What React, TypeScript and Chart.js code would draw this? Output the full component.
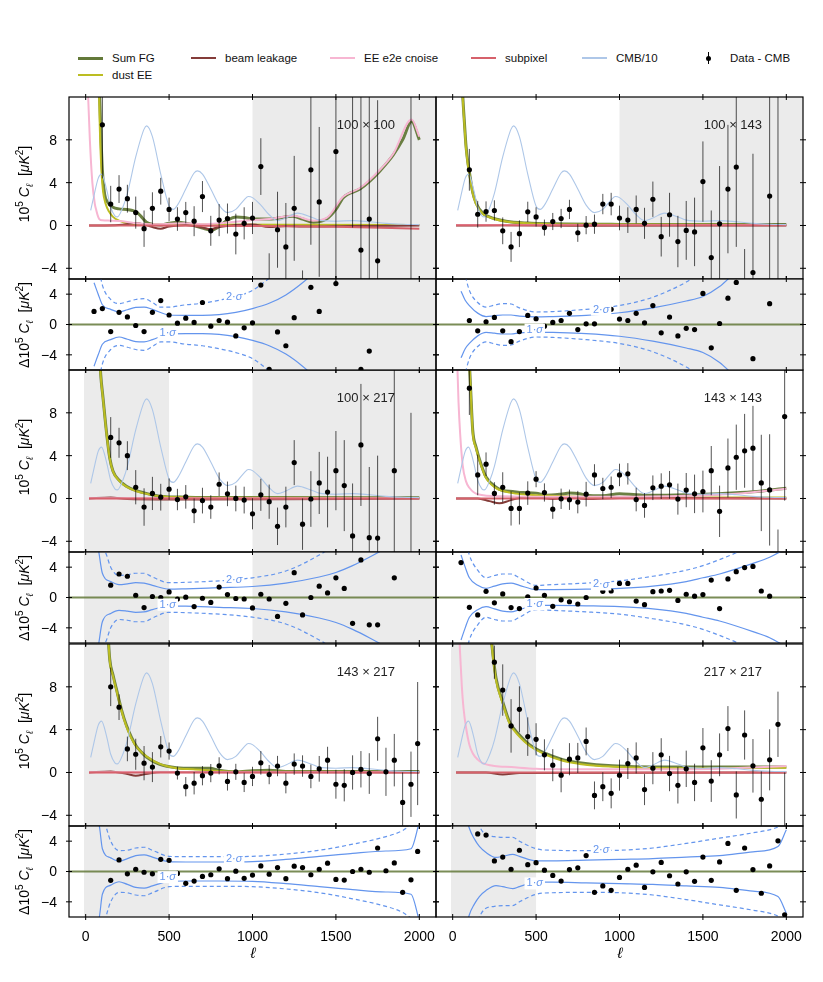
import { useEffect, useRef } from "react"
import { Chart, registerables } from "chart.js"

Chart.register(...registerables)

type Pair = [number, number]

const FONT = '"Liberation Sans", "DejaVu Sans", sans-serif'

// CMB EE spectrum divided by 10 (same in every panel)
const cmbL = [30, 50, 75, 95, 125, 150, 175, 190, 225, 250, 300, 350, 365, 400, 450, 500, 525, 550, 600, 650, 670, 700, 750, 800, 850, 900, 950, 975, 1000, 1050, 1100, 1150, 1200, 1270, 1350, 1400, 1500, 1600, 1700, 1800, 1900, 2000]
const cmbV = [1.4, 2.8, 4.4, 4.8, 3.4, 1.7, 0.9, 0.8, 1.8, 3.0, 6.4, 9.0, 9.3, 8.3, 4.8, 1.8, 1.5, 1.9, 3.4, 4.9, 5.1, 4.8, 3.4, 1.9, 1.2, 1.5, 2.4, 2.7, 2.6, 1.9, 1.0, 0.45, 0.7, 1.15, 0.8, 0.5, 0.4, 0.45, 0.35, 0.2, 0.12, 0.08]

const xTicks = [0, 500, 1000, 1500, 2000]
const mainTicks = [-4, 0, 4, 8]
const resTicks = [-4, 0, 4]

// ---- 100 x 100 ----
const dataL100x100 = [100, 150, 200, 250, 300, 350, 400, 450, 500, 550, 600, 650, 700, 750, 800, 850, 900, 950, 1000, 1050, 1100, 1150, 1200, 1250, 1300, 1350, 1400, 1500, 1600, 1650, 1700, 1750, 1950]
const dataV100x100 = [9.4, 2.0, 3.4, 2.5, 1.2, -0.3, 1.6, 3.2, 1.5, 0.6, 1.2, 0.4, 2.7, -0.5, 0.5, 0.65, -0.8, 0.2, 0.7, 5.5, -8, -0.4, -2.0, 1.6, -10, 5.2, 2.2, 6.9, 16, -2.3, 0.6, -3.3, 20]
const dataE100x100 = [5, 1.7, 1.3, 1.3, 1.5, 1.7, 1.5, 1.25, 1.1, 1.1, 1.0, 1.4, 1.45, 1.4, 1.5, 1.4, 1.9, 1.5, 1.5, 2.65, 5.4, 3.55, 4.1, 4.9, 5.8, 7.0, 7.0, 15, 16.2, 15, 15, 15, 35]
const resL100x100 = [50, 100, 150, 200, 250, 300, 350, 400, 450, 500, 550, 600, 650, 700, 750, 800, 850, 900, 950, 1000, 1050, 1100, 1150, 1200, 1250, 1350, 1400, 1500, 1650, 1700]
const resV100x100 = [1.73, 2.1, -0.93, 1.6, 1.0, -0.13, -0.93, 1.6, 3.15, 1.25, 0.18, 0.84, 0.27, 2.9, -0.22, 0.53, 0.31, -1.5, -0.44, 0.22, 5.2, -5.9, -0.98, -2.8, 0.9, 4.9, 1.73, 5.4, -5.9, -3.5]
const sumFG100x100: Pair[] = [[80, 14], [90, 9], [100, 5.2], [114, 2.9], [130, 2.2], [164, 1.7], [200, 1.55], [244, 1.5], [280, 1.4], [310, 1.2], [340, 0.7], [364, 0.3], [400, 0.1], [450, 0.05], [500, 0.2], [550, 0.3], [600, 0.2], [650, 0.0], [700, -0.25], [754, -0.45], [800, -0.1], [850, 0.5], [904, 0.8], [950, 0.75], [1004, 0.6], [1100, 0.6], [1244, 0.85], [1300, 0.6], [1364, 0.3], [1444, 0.6], [1500, 1.5], [1544, 2.6], [1644, 3.4], [1700, 4.1], [1764, 5.1], [1844, 6.6], [1900, 8.0], [1954, 9.7], [2000, 8.0]]
const dust100x100: Pair[] = [[78, 14], [85, 9], [95, 5], [104, 3.2], [120, 2.0], [140, 1.3], [164, 0.8], [200, 0.45], [250, 0.2], [300, 0.12], [400, 0.1], [700, 0.08], [1200, 0.06], [2000, 0.05]]
const beam100x100: Pair[] = [[20, 0], [200, 0.05], [300, 0.2], [350, 0.1], [400, -0.15], [450, -0.3], [500, -0.1], [600, 0.05], [700, -0.2], [750, -0.35], [800, -0.15], [900, 0.05], [1000, 0.1], [1100, -0.15], [1200, -0.05], [1300, -0.1], [1600, -0.05], [2000, 0]]
const cnoise100x100: Pair[] = [[10, 14], [25, 8], [40, 4], [55, 2.0], [64, 1.4], [75, 0.8], [84, 0.55], [100, 0.48], [150, 0.45], [200, 0.42], [250, 0.33], [300, 0.2], [400, 0.12], [500, 0.15], [600, 0.2], [700, 0.12], [800, 0.2], [900, 0.35], [1000, 0.5], [1100, 0.6], [1244, 0.9], [1364, 0.45], [1444, 0.7], [1544, 2.7], [1644, 3.5], [1764, 5.2], [1844, 6.7], [1954, 9.9], [2000, 8.3]]
const subpix100x100: Pair[] = [[20, 0], [1000, -0.05], [1500, -0.12], [2000, -0.3]]
const sig1_100x100: Pair[] = [[50, 5.5], [75, 4.0], [100, 2.6], [150, 2.0], [200, 1.65], [250, 1.95], [300, 2.25], [350, 2.3], [400, 2.0], [500, 1.25], [600, 1.2], [700, 1.2], [800, 1.3], [900, 1.6], [1000, 2.1], [1100, 2.8], [1200, 3.9], [1300, 5.5], [1400, 7.5], [1600, 12], [2000, 20]]
const sig2_100x100: Pair[] = [[75, 8], [100, 5.2], [150, 3.3], [200, 2.75], [250, 3.0], [300, 3.3], [350, 3.4], [400, 2.9], [450, 2.3], [500, 2.3], [600, 2.6], [700, 2.8], [800, 3.2], [900, 3.7], [1000, 4.5], [1100, 6.1], [1200, 8], [1400, 12], [2000, 25]]

// ---- 100 x 143 ----
const dataL100x143 = [100, 150, 200, 250, 300, 350, 400, 450, 500, 550, 600, 650, 700, 750, 800, 850, 900, 950, 1000, 1050, 1100, 1150, 1200, 1250, 1300, 1350, 1400, 1450, 1500, 1550, 1600, 1650, 1700, 1750, 1800, 1900, 1950]
const dataV100x143 = [5.2, 1.05, 1.3, 1.4, -0.5, -2.0, -0.77, 1.27, 0.8, -0.2, 0.37, 0.65, 1.5, -0.68, 0.03, 0.12, 2.0, 2.0, 0.7, 0.5, 1.5, 0.2, 2.45, -1.05, 1.0, -1.5, -0.46, -0.6, 4.1, -3.0, 0.15, 3.4, 5.45, -10, -4.4, 2.75, 18]
const dataE100x143 = [1.95, 1.25, 0.95, 0.95, 1.25, 1.4, 1.25, 0.95, 0.9, 0.75, 0.8, 0.9, 0.9, 0.85, 0.85, 0.9, 0.95, 1.05, 1.15, 1.2, 1.3, 1.45, 1.65, 1.85, 2.05, 2.4, 2.75, 3.2, 3.75, 4.4, 5.4, 6.0, 7.45, 7.8, 11.1, 15, 32]
const resL100x143 = [100, 150, 200, 250, 300, 350, 400, 450, 500, 550, 600, 650, 700, 750, 800, 850, 900, 950, 1000, 1050, 1100, 1150, 1200, 1250, 1300, 1350, 1400, 1450, 1500, 1550, 1600, 1650, 1700, 1800, 1900]
const resV100x143 = [0.53, -0.84, 0.36, 0.93, -0.84, -2.27, -0.93, 1.2, 0.76, -0.22, 0.27, 0.53, 1.47, -0.67, 0.09, 0.09, 1.95, 2.0, 0.71, 0.53, 1.47, 0.22, 2.5, -1.1, 0.98, -1.5, -0.5, -0.67, 4.1, -3.07, 0.13, 3.47, 5.55, -4.5, 2.75]
const sumFG100x143: Pair[] = [[55, 14], [60, 12.2], [70, 9.7], [80, 7.4], [90, 6.0], [100, 5.0], [120, 3.1], [140, 2.1], [180, 1.15], [220, 0.8], [320, 0.4], [450, 0.22], [600, 0.15], [1000, 0.1], [2000, 0.08]]
const dust100x143: Pair[] = [[55, 14], [60, 12], [70, 9.5], [80, 7.2], [90, 5.8], [100, 4.8], [120, 3.0], [140, 2.0], [180, 1.1], [220, 0.77], [320, 0.37], [450, 0.2], [600, 0.12], [1000, 0.08], [2000, 0.05]]
const beam100x143: Pair[] = [[20, 0], [300, 0.02], [700, -0.02], [2000, 0]]
const cnoise100x143: Pair[] = [[20, 0.04], [2000, 0.04]]
const subpix100x143: Pair[] = [[20, 0.02], [2000, 0.02]]
const sig1_100x143: Pair[] = [[50, 4.4], [75, 3.2], [100, 2.5], [150, 1.5], [200, 1.05], [250, 1.15], [300, 1.25], [350, 1.25], [400, 1.1], [500, 1.0], [600, 1.05], [800, 1.2], [1000, 1.55], [1200, 2.2], [1400, 3.1], [1500, 3.7], [1600, 5.0], [1700, 7], [2000, 12]]
const sig2_100x143: Pair[] = [[50, 9], [75, 6.5], [100, 4.5], [150, 2.9], [200, 2.3], [250, 2.55], [300, 2.75], [350, 2.7], [400, 2.2], [500, 1.65], [600, 1.7], [800, 2.0], [1000, 2.5], [1200, 3.6], [1400, 5.6], [1600, 8.5], [2000, 15]]

// ---- 100 x 217 ----
const dataL100x217 = [150, 200, 250, 300, 350, 400, 450, 500, 550, 600, 650, 700, 750, 800, 850, 900, 950, 1000, 1050, 1100, 1150, 1200, 1250, 1300, 1350, 1400, 1450, 1500, 1550, 1600, 1650, 1700, 1750, 1850, 1950]
const dataV100x217 = [5.7, 5.2, 4.0, 1.05, -0.8, 0.47, 0.12, 0.87, -0.1, 0.15, -1.15, -0.2, -0.8, 1.33, 0.43, 0, -0.15, -1.43, 0.34, -0.3, -2.6, -0.8, 3.35, -2.4, -0.05, 1.45, 0.6, 2.6, 1.2, -3.5, 5.0, -3.66, -3.7, 2.6, -9]
const dataE100x217 = [1.9, 1.4, 1.35, 1.6, 1.75, 1.55, 1.25, 1.0, 1.0, 1.1, 1.15, 1.2, 1.1, 1.1, 1.15, 1.2, 1.25, 1.45, 1.5, 1.6, 1.75, 1.9, 2.1, 2.4, 2.6, 2.9, 3.3, 3.7, 4.25, 4.9, 5.7, 6.6, 7.7, 12, 17]
const resL100x217 = [150, 200, 250, 300, 350, 400, 450, 500, 550, 600, 650, 700, 750, 800, 850, 900, 950, 1000, 1050, 1100, 1150, 1200, 1250, 1300, 1350, 1400, 1450, 1500, 1550, 1600, 1650, 1700, 1750, 1850]
const resV100x217 = [1.63, 3.1, 2.8, 0.3, -1.33, 0.13, 0, 0.73, -0.2, 0.04, -1.2, -0.1, -0.65, 1.38, 0.39, -0.13, -0.2, -1.38, 0.43, -0.2, -2.5, -0.77, 3.27, -2.3, 0, 1.5, 0.6, 2.6, 1.2, -3.4, 4.95, -3.6, -3.6, 2.6]
const sumFG100x217: Pair[] = [[82, 14], [90, 11.6], [104, 9.4], [124, 6.3], [144, 3.8], [164, 2.55], [204, 1.65], [244, 1.15], [300, 0.75], [344, 0.55], [444, 0.22], [600, 0.12], [1000, 0.08], [2000, 0.06]]
const dust100x217: Pair[] = [[82, 14], [90, 11.5], [104, 9.3], [124, 6.2], [144, 3.75], [164, 2.5], [204, 1.6], [244, 1.1], [300, 0.7], [344, 0.5], [444, 0.2], [600, 0.1], [1000, 0.06], [2000, 0.05]]
const beam100x217: Pair[] = [[20, 0], [150, 0.1], [250, -0.05], [700, -0.1], [2000, 0]]
const cnoise100x217: Pair[] = [[20, 0.03], [2000, 0.03]]
const subpix100x217: Pair[] = [[20, 0], [2000, 0]]
const sig1_100x217: Pair[] = [[50, 9], [75, 6.5], [100, 3.2], [150, 2.1], [200, 1.7], [250, 1.8], [300, 1.95], [350, 1.9], [400, 1.6], [500, 1.1], [600, 1.15], [800, 1.3], [1000, 1.45], [1200, 1.9], [1400, 2.7], [1500, 3.3], [1600, 4.2], [1700, 5.3], [2000, 9]]
const sig2_100x217: Pair[] = [[50, 14], [100, 7], [125, 5.6], [150, 4.0], [200, 2.9], [250, 3.0], [300, 3.2], [350, 3.2], [400, 2.7], [500, 1.95], [600, 2.0], [800, 2.2], [1000, 2.6], [1200, 3.5], [1400, 5.6], [1600, 8.5], [2000, 15]]

// ---- 143 x 143 ----
const dataL143x143 = [100, 150, 200, 250, 300, 350, 400, 450, 500, 550, 600, 650, 700, 750, 800, 850, 900, 950, 1000, 1050, 1100, 1150, 1200, 1250, 1300, 1350, 1400, 1450, 1500, 1550, 1600, 1650, 1700, 1750, 1800, 1850, 1900, 1950, 1990]
const dataV143x143 = [10.3, 2.2, 3.2, 0.47, 1.05, -0.93, -0.93, 0.5, 1.8, 0.56, -1.0, -0.03, -0.12, -0.34, 0.4, 2.2, 0.93, 1.05, 2.2, 2.3, -0.1, -0.65, 1.0, 1.15, 1.27, -0.06, 0.78, 0.43, 0.65, 2.6, -1.2, 2.85, 3.85, 4.45, 4.7, 1.45, 0.8, -9, 7.65]
const dataE143x143 = [2.5, 1.9, 1.1, 1.05, 1.4, 1.6, 1.5, 1.1, 0.75, 0.85, 0.9, 0.95, 0.95, 1.05, 1.15, 1.0, 1.0, 1.0, 1.05, 1.0, 1.1, 1.15, 1.15, 1.2, 1.3, 1.45, 1.6, 1.8, 1.95, 2.3, 2.4, 2.75, 3.05, 3.45, 3.95, 4.5, 5.2, 6.1, 7.85]
const resL143x143 = [50, 100, 150, 200, 250, 300, 350, 400, 450, 500, 550, 600, 650, 700, 750, 800, 850, 900, 950, 1000, 1050, 1100, 1150, 1200, 1250, 1300, 1350, 1400, 1450, 1500, 1550, 1600, 1650, 1700, 1750, 1800, 1850, 1900]
const resV143x143 = [4.6, -1.3, -2.3, 0.82, -0.7, 0.47, -1.33, -1.46, 0.1, 1.25, 0.3, -1.16, -0.3, -0.56, -0.86, 0, 2.0, 0.82, 0.86, 1.85, 1.85, -0.47, -0.95, 0.77, 0.86, 0.95, -0.39, 0.43, 0.17, 0.39, 2.3, -1.46, 2.45, 3.4, 3.95, 4.1, 0.86, 0.17]
const sumFG143x143: Pair[] = [[96, 14], [108, 10.1], [120, 6.4], [140, 4.8], [170, 3.2], [200, 2.0], [260, 1.05], [300, 0.75], [360, 0.65], [420, 0.55], [500, 0.5], [560, 0.3], [650, 0.4], [700, 0.5], [760, 0.45], [800, 0.3], [900, 0.25], [1000, 0.45], [1100, 0.35], [1200, 0.3], [1400, 0.35], [1600, 0.45], [1800, 0.62], [2000, 0.95]]
const dust143x143: Pair[] = [[96, 14], [108, 10], [120, 6.2], [140, 4.7], [170, 3.1], [200, 1.9], [260, 0.96], [360, 0.5], [460, 0.34], [660, 0.2], [1000, 0.1], [2000, 0.08]]
const beam143x143: Pair[] = [[20, 0], [150, 0], [220, -0.25], [280, -0.45], [340, -0.2], [400, 0.05], [500, 0.1], [600, -0.05], [700, 0.1], [800, -0.05], [1000, 0.05], [2000, 0]]
const cnoise143x143: Pair[] = [[25, 14], [35, 9], [45, 6], [60, 3.1], [80, 1.6], [100, 1.0], [150, 0.4], [300, 0.2], [600, 0.15], [1000, 0.15], [1400, 0.25], [1700, 0.45], [2000, 0.9]]
const subpix143x143: Pair[] = [[20, 0], [2000, 0]]
const sig1_143x143: Pair[] = [[50, 5.6], [75, 4.0], [100, 2.6], [150, 1.6], [200, 1.2], [250, 1.5], [300, 1.8], [350, 1.9], [400, 1.6], [500, 1.05], [600, 1.05], [800, 1.1], [1000, 1.2], [1200, 1.5], [1400, 2.1], [1500, 2.6], [1600, 3.1], [1800, 4.5], [1900, 5.3], [2000, 6.5]]
const sig2_143x143: Pair[] = [[75, 8], [100, 5.6], [150, 3.6], [200, 2.6], [250, 2.9], [300, 3.1], [350, 3.1], [400, 2.6], [500, 1.6], [600, 1.7], [800, 1.9], [1000, 2.2], [1200, 2.8], [1400, 3.6], [1500, 4.2], [1600, 5.0], [1700, 5.9], [1800, 7], [2000, 10]]

// ---- 143 x 217 ----
const dataL143x217 = [150, 200, 250, 300, 350, 400, 450, 500, 550, 600, 650, 700, 750, 800, 850, 900, 950, 1000, 1050, 1100, 1150, 1200, 1250, 1300, 1350, 1400, 1450, 1500, 1550, 1600, 1650, 1700, 1750, 1800, 1850, 1900, 1950, 1990]
const dataV143x217 = [8.0, 6.1, 2.2, 1.7, 0.87, 0.5, 2.4, 2.0, -0.06, -1.33, -1.0, -0.3, -0.06, 0.62, -0.84, 0.06, -0.93, -0.37, 0.9, -0.2, 0.6, -1.0, 0.78, 0.6, -0.37, 0.34, 1.15, -1.1, -1.2, 0, 0.3, -0.1, 3.15, 0.06, 1.15, -2.8, -1.1, 2.7]
const dataE143x217 = [1.8, 1.2, 1.15, 1.45, 1.6, 1.4, 1.0, 0.8, 0.6, 0.9, 1.05, 0.9, 0.85, 0.8, 0.85, 0.75, 0.9, 0.9, 1.1, 0.9, 0.95, 0.95, 1.0, 1.0, 1.1, 1.2, 1.25, 1.35, 1.5, 1.6, 1.7, 1.9, 2.05, 2.25, 2.45, 2.8, 3.05, 5.75]
const resL143x217 = dataL143x217
const resV143x217 = [-1.17, 1.52, -0.3, 0.3, -0.1, -0.3, 1.6, 1.47, -0.26, -1.56, -1.26, -0.65, -0.43, 0.35, -0.95, 0.04, -0.9, -0.47, 0.74, -0.35, 0.52, -0.95, 0.7, 0.52, -0.43, 0.3, 1.1, -1.04, -1.13, 0, 0.3, -0.1, 3.1, 0.1, 1.13, -2.74, -1.1, 2.65]
const sumFG143x217: Pair[] = [[130, 14], [144, 10.6], [164, 9.1], [184, 7.8], [214, 5.9], [244, 4.4], [274, 3.3], [304, 2.45], [334, 1.9], [364, 1.45], [444, 0.75], [544, 0.45], [644, 0.4], [744, 0.4], [800, 0.2], [900, 0.05], [1000, 0.15], [1100, 0.2], [1200, 0.1], [1400, 0.1], [2000, 0.1]]
const dust143x217: Pair[] = [[130, 14], [144, 10.5], [164, 9.0], [184, 7.7], [214, 5.8], [244, 4.3], [274, 3.2], [304, 2.4], [334, 1.9], [364, 1.5], [444, 0.8], [544, 0.4], [644, 0.3], [844, 0.1], [1200, 0.06], [2000, 0.05]]
const beam143x217: Pair[] = [[20, 0], [150, 0.1], [250, -0.15], [300, -0.3], [360, -0.15], [450, 0.05], [2000, 0]]
const cnoise143x217: Pair[] = [[20, 0.03], [2000, 0.03]]
const subpix143x217: Pair[] = [[20, 0], [2000, 0]]
const sig1_143x217: Pair[] = [[50, 10], [84, 5.7], [100, 3.0], [150, 1.8], [200, 1.35], [250, 1.7], [300, 2.1], [350, 2.2], [400, 1.9], [500, 1.3], [600, 1.25], [800, 1.25], [1000, 1.3], [1200, 1.6], [1400, 2.0], [1500, 2.2], [1600, 2.4], [1800, 2.7], [1950, 3.0], [2000, 6.5]]
const sig2_143x217: Pair[] = [[75, 12], [100, 8], [125, 5.7], [150, 4.0], [200, 2.75], [250, 2.8], [300, 3.1], [350, 3.2], [400, 2.8], [500, 2.0], [600, 1.95], [800, 1.95], [1000, 2.0], [1200, 2.3], [1400, 2.8], [1600, 3.6], [1800, 4.6], [1900, 5.4], [2000, 7]]

// ---- 217 x 217 ----
const dataL217x217 = [250, 300, 350, 400, 450, 500, 550, 600, 650, 700, 750, 800, 850, 900, 950, 1000, 1050, 1100, 1150, 1200, 1250, 1300, 1350, 1400, 1450, 1500, 1550, 1600, 1650, 1700, 1750, 1800, 1850, 1900, 1950, 1990]
const dataV217x217 = [10.3, 7.7, 4.35, 5.9, 3.35, 3.1, 1.65, 0.68, -0.25, 1.24, 1.36, 2.9, -2.14, -1.33, -1.95, -0.25, 0.84, 1.36, -1.6, 0.4, 1.65, -0.1, -1.2, 0.34, -0.93, 2.3, -0.8, 1.65, 4.1, -2.1, 3.5, 0.62, -2.5, 1.18, 4.5, -6]
const dataE217x217 = [1.55, 2.4, 2.5, 2.15, 1.8, 1.5, 1.45, 1.5, 1.6, 1.5, 1.4, 1.3, 1.3, 1.35, 1.4, 1.45, 1.45, 1.45, 1.45, 1.5, 1.55, 1.65, 1.7, 1.7, 1.75, 1.85, 1.95, 2.0, 2.1, 2.2, 2.3, 2.5, 2.6, 2.85, 3.05, 6]
const resL217x217 = [150, 200, 250, 300, 350, 400, 450, 500, 550, 600, 650, 700, 750, 800, 850, 900, 950, 1000, 1050, 1100, 1150, 1200, 1250, 1300, 1350, 1400, 1450, 1500, 1550, 1600, 1650, 1700, 1750, 1800, 1850, 1900, 1950, 1990]
const resV217x217 = [4.95, 4.8, 1.4, 1.9, 0.3, 2.8, 0.9, 1.17, 0.17, -0.52, -1.26, 0.26, 0.48, 2.1, -2.74, -1.9, -2.48, -0.78, 0.3, 0.83, -2.1, -0.04, 1.2, -0.56, -1.65, -0.04, -1.3, 1.9, -1.17, 1.26, 3.7, -2.48, 3.1, 0.26, -2.87, 0.74, 4.04, -5.7]
const sumFG217x217: Pair[] = [[222, 14], [240, 11.2], [260, 8.8], [300, 6.6], [340, 4.75], [400, 3.5], [460, 2.6], [560, 1.75], [660, 1.2], [760, 0.9], [860, 0.72], [1060, 0.55], [1400, 0.5], [2000, 0.52]]
const dust217x217: Pair[] = [[222, 14], [240, 11], [260, 8.6], [300, 6.45], [340, 4.6], [400, 3.35], [460, 2.5], [560, 1.65], [660, 1.1], [760, 0.8], [860, 0.62], [1060, 0.47], [1400, 0.4], [2000, 0.45]]
const beam217x217: Pair[] = [[20, 0], [200, 0], [300, -0.2], [400, -0.05], [2000, 0]]
const cnoise217x217: Pair[] = [[35, 14], [45, 11], [55, 8], [65, 6], [80, 4.2], [100, 2.6], [120, 1.8], [150, 1.2], [180, 0.87], [250, 0.6], [350, 0.5], [500, 0.35], [800, 0.3], [1200, 0.3], [1600, 0.35], [2000, 0.6]]
const subpix217x217: Pair[] = [[20, 0], [2000, 0]]
const sig1_217x217: Pair[] = [[50, 12], [75, 8], [100, 5.7], [130, 4.3], [160, 3.3], [200, 2.5], [260, 1.85], [300, 2.0], [360, 2.26], [400, 2.0], [500, 1.4], [600, 1.4], [800, 1.5], [1000, 1.6], [1200, 1.7], [1400, 1.9], [1600, 2.1], [1800, 2.6], [1950, 3.3], [2000, 5.5]]
const sig2_217x217: Pair[] = [[100, 10], [150, 6.5], [190, 5.0], [250, 4.6], [300, 4.5], [360, 4.5], [400, 4.0], [500, 3.0], [600, 2.8], [800, 2.75], [1000, 2.8], [1200, 3.1], [1400, 3.7], [1600, 4.4], [1800, 5.1], [1930, 5.7], [2000, 6.5]]

interface Spec {
  title: string
  col: number
  row: number
  shade: Pair[]
  dataL: number[]
  dataV: number[]
  dataE: number[]
  resL: number[]
  resV: number[]
  sumFG: Pair[]
  dust: Pair[]
  beam: Pair[]
  cnoise: Pair[]
  subpix: Pair[]
  sig1: Pair[]
  sig2: Pair[]
  lab2: number
  lab1: number
}

const panels: Spec[] = [
  { title: "100 \u00d7 100", col: 0, row: 0, shade: [[1000, 2100]], dataL: dataL100x100, dataV: dataV100x100, dataE: dataE100x100, resL: resL100x100, resV: resV100x100, sumFG: sumFG100x100, dust: dust100x100, beam: beam100x100, cnoise: cnoise100x100, subpix: subpix100x100, sig1: sig1_100x100, sig2: sig2_100x100, lab2: 3.64, lab1: -1.16 },
  { title: "100 \u00d7 143", col: 1, row: 0, shade: [[1000, 2100]], dataL: dataL100x143, dataV: dataV100x143, dataE: dataE100x143, resL: resL100x143, resV: resV100x143, sumFG: sumFG100x143, dust: dust100x143, beam: beam100x143, cnoise: cnoise100x143, subpix: subpix100x143, sig1: sig1_100x143, sig2: sig2_100x143, lab2: 1.96, lab1: -0.67 },
  { title: "100 \u00d7 217", col: 0, row: 1, shade: [[-10, 500], [1000, 2100]], dataL: dataL100x217, dataV: dataV100x217, dataE: dataE100x217, resL: resL100x217, resV: resV100x217, sumFG: sumFG100x217, dust: dust100x217, beam: beam100x217, cnoise: cnoise100x217, subpix: subpix100x217, sig1: sig1_100x217, sig2: sig2_100x217, lab2: 2.37, lab1: -0.95 },
  { title: "143 \u00d7 143", col: 1, row: 1, shade: [], dataL: dataL143x143, dataV: dataV143x143, dataE: dataE143x143, resL: resL143x143, resV: resV143x143, sumFG: sumFG143x143, dust: dust143x143, beam: beam143x143, cnoise: cnoise143x143, subpix: subpix143x143, sig1: sig1_143x143, sig2: sig2_143x143, lab2: 1.72, lab1: -0.86 },
  { title: "143 \u00d7 217", col: 0, row: 2, shade: [[-10, 500]], dataL: dataL143x217, dataV: dataV143x217, dataE: dataE143x217, resL: resL143x217, resV: resV143x217, sumFG: sumFG143x217, dust: dust143x217, beam: beam143x217, cnoise: cnoise143x217, subpix: subpix143x217, sig1: sig1_143x217, sig2: sig2_143x217, lab2: 1.7, lab1: -0.74 },
  { title: "217 \u00d7 217", col: 1, row: 2, shade: [[-10, 500]], dataL: dataL217x217, dataV: dataV217x217, dataE: dataE217x217, resL: resL217x217, resV: resV217x217, sumFG: sumFG217x217, dust: dust217x217, beam: beam217x217, cnoise: cnoise217x217, subpix: subpix217x217, sig1: sig1_217x217, sig2: sig2_217x217, lab2: 2.83, lab1: -1.57 },
]

// figure geometry
const colX = [69, 436]
const rowY = [97, 370, 644]
const PW = 367
const MAIN_H = 182
const RES_H = 91
const PAD = { l: 60, t: 20, r: 20, b: 40 }

const xy = (p: Pair[]) => p.map(([x, y]) => ({ x, y }))
const neg = (p: Pair[]) => p.map(([x, y]) => ({ x, y: -y }))
const zip = (xs: number[], ys: number[]) => xs.map((x, i) => ({ x, y: ys[i] }))

function curve(data: { x: number; y: number }[], color: string, width: number, order: number, extra: object = {}) {
  return {
    data,
    borderColor: color,
    borderWidth: width,
    showLine: true,
    pointRadius: 0,
    cubicInterpolationMode: "monotone",
    order,
    ...extra,
  }
}

function decor(spec: Spec, kind: "main" | "res") {
  const isMain = kind === "main"
  return {
    id: "decor",
    beforeDatasetsDraw(chart: any) {
      const { ctx, chartArea: a, scales } = chart
      ctx.save()
      ctx.fillStyle = "#ebebeb"
      for (const [l0, l1] of spec.shade) {
        const p0 = Math.max(a.left, scales.x.getPixelForValue(l0))
        const p1 = Math.min(a.right, scales.x.getPixelForValue(l1))
        ctx.fillRect(p0, a.top, p1 - p0, a.bottom - a.top)
      }
      if (!isMain) {
        const y0 = scales.y.getPixelForValue(0)
        ctx.strokeStyle = "rgba(99,121,57,0.85)"
        ctx.lineWidth = 2
        ctx.beginPath()
        ctx.moveTo(a.left, y0)
        ctx.lineTo(a.right, y0)
        ctx.stroke()
      }
      ctx.restore()
    },
    beforeDatasetDraw(chart: any, args: any) {
      if (!isMain || args.index !== 0) return
      const { ctx, chartArea: a, scales } = chart
      ctx.save()
      ctx.beginPath()
      ctx.rect(a.left, a.top, a.right - a.left, a.bottom - a.top)
      ctx.clip()
      ctx.strokeStyle = "rgba(0,0,0,0.68)"
      ctx.lineWidth = 1
      spec.dataL.forEach((l, i) => {
        const px = scales.x.getPixelForValue(l)
        ctx.beginPath()
        ctx.moveTo(px, scales.y.getPixelForValue(spec.dataV[i] + spec.dataE[i]))
        ctx.lineTo(px, scales.y.getPixelForValue(spec.dataV[i] - spec.dataE[i]))
        ctx.stroke()
      })
      ctx.restore()
    },
    afterDraw(chart: any) {
      const { ctx, chartArea: a, scales } = chart
      const yt = isMain ? mainTicks : resTicks
      ctx.save()
      ctx.strokeStyle = "#000"
      ctx.lineWidth = 1.2
      ctx.strokeRect(a.left, a.top, a.right - a.left, a.bottom - a.top)
      ctx.lineWidth = 1
      ctx.beginPath()
      for (const t of xTicks) {
        const px = scales.x.getPixelForValue(t)
        ctx.moveTo(px, a.top - 3)
        ctx.lineTo(px, a.top + 3)
        ctx.moveTo(px, a.bottom - 3)
        ctx.lineTo(px, a.bottom + 3)
      }
      for (const t of yt) {
        const py = scales.y.getPixelForValue(t)
        ctx.moveTo(a.left - 3, py)
        ctx.lineTo(a.left + 3, py)
        ctx.moveTo(a.right - 3, py)
        ctx.lineTo(a.right + 3, py)
      }
      ctx.stroke()

      ctx.fillStyle = "#000"
      ctx.font = `14px ${FONT}`
      if (spec.col === 0) {
        ctx.textAlign = "right"
        ctx.textBaseline = "middle"
        for (const t of yt) {
          const label = t < 0 ? "\u2212" + Math.abs(t) : String(t)
          ctx.fillText(label, a.left - 12, scales.y.getPixelForValue(t) + 1)
        }
      }
      if (!isMain && spec.row === 2) {
        ctx.textAlign = "center"
        ctx.textBaseline = "top"
        for (const t of xTicks) ctx.fillText(String(t), scales.x.getPixelForValue(t), a.bottom + 13)
      }

      if (isMain) {
        ctx.fillStyle = "#222"
        ctx.font = `13px ${FONT}`
        ctx.textAlign = "center"
        ctx.textBaseline = "middle"
        ctx.fillText(spec.title, scales.x.getPixelForValue(1680), scales.y.getPixelForValue(9.35))
      } else {
        const labels: [string, number, number][] = [
          ["2", 890, spec.lab2],
          ["1", 492, spec.lab1],
        ]
        for (const [n, l, v] of labels) {
          const cx = scales.x.getPixelForValue(l)
          const cy = scales.y.getPixelForValue(v)
          ctx.font = `11px ${FONT}`
          const w1 = ctx.measureText(n + "\u00b7").width
          ctx.font = `italic 11px ${FONT}`
          const w2 = ctx.measureText("\u03c3").width
          const w = w1 + w2
          ctx.fillStyle = "#fff"
          ctx.fillRect(cx - w / 2 - 2, cy - 6, w + 4, 12)
          ctx.fillStyle = "#6495ed"
          ctx.textAlign = "left"
          ctx.textBaseline = "middle"
          ctx.font = `11px ${FONT}`
          ctx.fillText(n + "\u00b7", cx - w / 2, cy)
          ctx.font = `italic 11px ${FONT}`
          ctx.fillText("\u03c3", cx - w / 2 + w1, cy)
        }
      }
      ctx.restore()
    },
  }
}

function Subplot({ spec, kind }: { spec: Spec; kind: "main" | "res" }) {
  const ref = useRef<HTMLCanvasElement>(null)
  const isMain = kind === "main"
  const left = colX[spec.col]
  const top = isMain ? rowY[spec.row] : rowY[spec.row] + MAIN_H
  const h = isMain ? MAIN_H : RES_H
  const cw = PW + PAD.l + PAD.r
  const ch = h + PAD.t + PAD.b

  useEffect(() => {
    if (!ref.current) return
    const points = {
      pointRadius: 2.6,
      pointBackgroundColor: "#000",
      pointBorderWidth: 0,
      showLine: false,
      order: 0,
    }
    const datasets = isMain
      ? [
          { data: zip(spec.dataL, spec.dataV), ...points },
          curve(xy(spec.sumFG), "rgba(99,121,57,0.95)", 3, 7),
          curve(xy(spec.dust), "#bcbd22", 2, 6),
          curve(xy(spec.beam), "#843c39", 2, 5),
          curve(xy(spec.cnoise), "#f7b6d2", 2, 4),
          curve(xy(spec.subpix), "#d6616b", 2, 3),
          curve(zip(cmbL, cmbV), "#aec7e8", 1.1, 2),
        ]
      : [
          { data: zip(spec.resL, spec.resV), ...points },
          curve(xy(spec.sig1), "#6495ed", 1.2, 2),
          curve(neg(spec.sig1), "#6495ed", 1.2, 2),
          curve(xy(spec.sig2), "#6495ed", 1.2, 3, { borderDash: [4, 3] }),
          curve(neg(spec.sig2), "#6495ed", 1.2, 3, { borderDash: [4, 3] }),
        ]

    const chart = new Chart(ref.current, {
      type: "scatter",
      data: { datasets: datasets as any },
      options: {
        animation: false,
        responsive: false,
        events: [],
        layout: { padding: { left: PAD.l, top: PAD.t, right: PAD.r, bottom: PAD.b } },
        elements: { line: { capBezierPoints: false } },
        scales: {
          x: { type: "linear", min: -100, max: 2100, display: false },
          y: { type: "linear", min: isMain ? -5 : -6, max: isMain ? 12 : 6, display: false },
        },
        plugins: { legend: { display: false }, tooltip: { enabled: false } },
      },
      plugins: [decor(spec, kind) as any],
    })
    return () => chart.destroy()
  }, [])

  return (
    <canvas
      ref={ref}
      width={cw}
      height={ch}
      style={{ position: "absolute", left: left - PAD.l, top: top - PAD.t, width: cw, height: ch }}
    />
  )
}

const legendLines = [
  { label: "Sum FG", color: "#637939", width: 3, x: 78, y: 58 },
  { label: "dust EE", color: "#bcbd22", width: 2, x: 78, y: 75 },
  { label: "beam leakage", color: "#843c39", width: 2, x: 191, y: 58 },
  { label: "EE e2e cnoise", color: "#f7b6d2", width: 2, x: 330, y: 58 },
  { label: "subpixel", color: "#d6616b", width: 2, x: 471, y: 58 },
  { label: "CMB/10", color: "#aec7e8", width: 1.2, x: 582, y: 58 },
]

const textStyle: React.CSSProperties = {
  position: "absolute",
  fontFamily: FONT,
  fontSize: 11.5,
  color: "#111",
  whiteSpace: "nowrap",
  transform: "translateY(-50%)",
  lineHeight: "13px",
}

function YLabel({ y, delta }: { y: number; delta: boolean }) {
  return (
    <div
      style={{
        position: "absolute",
        left: 25,
        top: y,
        transform: "translate(-50%, -50%) rotate(-90deg)",
        whiteSpace: "nowrap",
        fontFamily: FONT,
        fontSize: 14,
        lineHeight: "16px",
        color: "#000",
      }}
    >
      {delta ? "\u0394" : ""}10<sup style={{ fontSize: 10 }}>5</sup> <i>C</i>
      <sub style={{ fontSize: 10 }}><i>{"\u2113"}</i></sub>
      {"\u00a0\u00a0"}[<i>{"\u03bc"}K</i><sup style={{ fontSize: 10 }}>2</sup>]
    </div>
  )
}

export default function App() {
  return (
    <div style={{ position: "absolute", left: 0, top: 0, width: 823, height: 982, background: "#fff", overflow: "hidden" }}>
      {legendLines.map((it) => (
        <div key={it.label}>
          <div
            style={{
              position: "absolute",
              left: it.x,
              top: it.y - it.width / 2,
              width: 25,
              height: it.width,
              background: it.color,
            }}
          />
          <div style={{ ...textStyle, left: it.x + 34, top: it.y }}>{it.label}</div>
        </div>
      ))}
      <div style={{ position: "absolute", left: 708, top: 52, width: 1, height: 12, background: "#000" }} />
      <div style={{ position: "absolute", left: 706, top: 56, width: 5, height: 5, borderRadius: 3, background: "#000" }} />
      <div style={{ ...textStyle, left: 730, top: 58 }}>Data - CMB</div>

      {panels.map((p) => (
        <Subplot key={p.title + "m"} spec={p} kind="main" />
      ))}
      {panels.map((p) => (
        <Subplot key={p.title + "r"} spec={p} kind="res" />
      ))}

      {rowY.map((y) => (
        <div key={y}>
          <YLabel y={y + MAIN_H / 2 - 4} delta={false} />
          <YLabel y={y + MAIN_H + RES_H / 2} delta={true} />
        </div>
      ))}

      {[253, 620].map((x) => (
        <div
          key={x}
          style={{
            position: "absolute",
            left: x,
            top: 952,
            transform: "translate(-50%, -50%)",
            fontFamily: FONT,
            fontSize: 15,
            fontStyle: "italic",
          }}
        >
          {"\u2113"}
        </div>
      ))}
    </div>
  )
}
